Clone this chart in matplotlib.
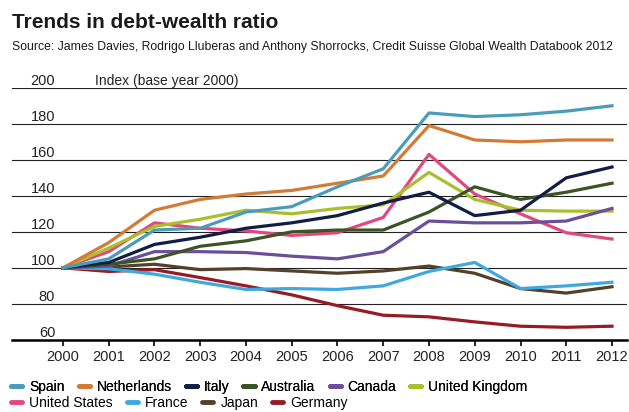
import matplotlib
matplotlib.use("Agg")
import matplotlib.pyplot as plt
from matplotlib.lines import Line2D

plt.rcParams['font.family'] = ['Liberation Sans', 'DejaVu Sans']

years = list(range(2000, 2013))

spain = [100, 105, 121, 122, 131, 134, 145, 155, 186, 184, 185, 187, 190]
netherlands = [100, 114, 132, 138, 141, 143, 147, 151, 179, 171, 170, 171, 171]
italy = [100, 103, 113, 117, 122, 125, 129, 136, 142, 129, 132, 150, 156]
australia = [100, 102, 105, 112, 115, 120, 121, 121, 131, 145, 138, 142, 147]
canada = [100, 101, 109, 109, 108.5, 106.5, 105, 109, 126, 125, 125, 126, 133]
uk = [100, 111, 123, 127, 132, 130, 133, 135, 153, 138, 132, 131.5, 131.5]
usa = [100, 109, 125, 122, 120.5, 118, 119.5, 128, 163, 141, 130, 119.5, 116]
france = [100, 99.5, 96.5, 92, 88, 88.5, 88, 90, 98, 103, 88.5, 90, 92]
japan = [100, 100.5, 102, 99, 99.6, 98.3, 97, 98.3, 101, 97, 88.5, 86, 89.5]
germany = [100, 98, 99, 94.6, 90, 85, 79, 73.7, 72.8, 70, 67.6, 67, 67.6]

names = ["Spain", "Netherlands", "Italy", "Australia", "Canada", "United Kingdom",
         "United States", "France", "Japan", "Germany"]
series = [spain, netherlands, italy, australia, canada, uk, usa, france, japan, germany]
colors = ["#4b9cbb", "#d27b36", "#111d45", "#3b5424", "#6b4f99", "#a9bf2c",
          "#e2487f", "#3fa9df", "#55402a", "#961b22"]

yticks = [60, 80, 100, 120, 140, 160, 180, 200]

fig = plt.figure(figsize=(6.29, 4.12), dpi=100)
ax = fig.add_axes([0.019, 0.175, 0.978, 0.612])

for v in yticks[1:]:
    ax.axhline(v, color="#222222", lw=0.8, zorder=1)

# draw back to front so Spain/Netherlands end up on top
for name, vals, c in reversed(list(zip(names, series, colors))):
    ax.plot(years, vals, color=c, lw=2.3, solid_joinstyle='round', zorder=2)

ax.set_xlim(1998.885, 2012.33)
ax.set_ylim(60, 200)
ax.set_xticks(years)
ax.set_xticklabels([str(y) for y in years], fontsize=10.5, color="#222222")
ax.tick_params(axis='x', direction='out', length=4, width=1.2, pad=3)
ax.set_yticks([])
for s in ['top', 'left', 'right']:
    ax.spines[s].set_visible(False)
ax.spines['bottom'].set_linewidth(1.8)

for v in yticks:
    ax.text(1999.83, v + 1.6, str(v), ha='right', va='baseline', fontsize=10.5, color="#222222")
ax.text(2000.7, 201.6, "Index (base year 2000)", ha='left', va='baseline', fontsize=10, color="#222222")

fig.text(0.019, 0.932, "Trends in debt-wealth ratio", fontsize=15, fontweight='bold', color="#1a1a1a")
fig.text(0.019, 0.878, "Source: James Davies, Rodrigo Lluberas and Anthony Shorrocks, "
         "Credit Suisse Global Wealth Databook 2012", fontsize=8.8, color="#1a1a1a")

handles = [Line2D([0], [0], color=c, lw=3.5, solid_capstyle='round') for c in colors]
leg1 = fig.legend(handles[:6], names[:6], loc='center left', bbox_to_anchor=(0.018, 0.061),
                  ncol=6, frameon=False, fontsize=10, handlelength=0.8, handletextpad=0.5,
                  columnspacing=1.0, borderpad=0, borderaxespad=0)
fig.legend(handles[6:], names[6:], loc='center left', bbox_to_anchor=(0.018, 0.022),
           ncol=4, frameon=False, fontsize=10, handlelength=0.8, handletextpad=0.5,
           columnspacing=1.0, borderpad=0, borderaxespad=0)
fig.add_artist(leg1)

fig.savefig("out.png", dpi=100)
